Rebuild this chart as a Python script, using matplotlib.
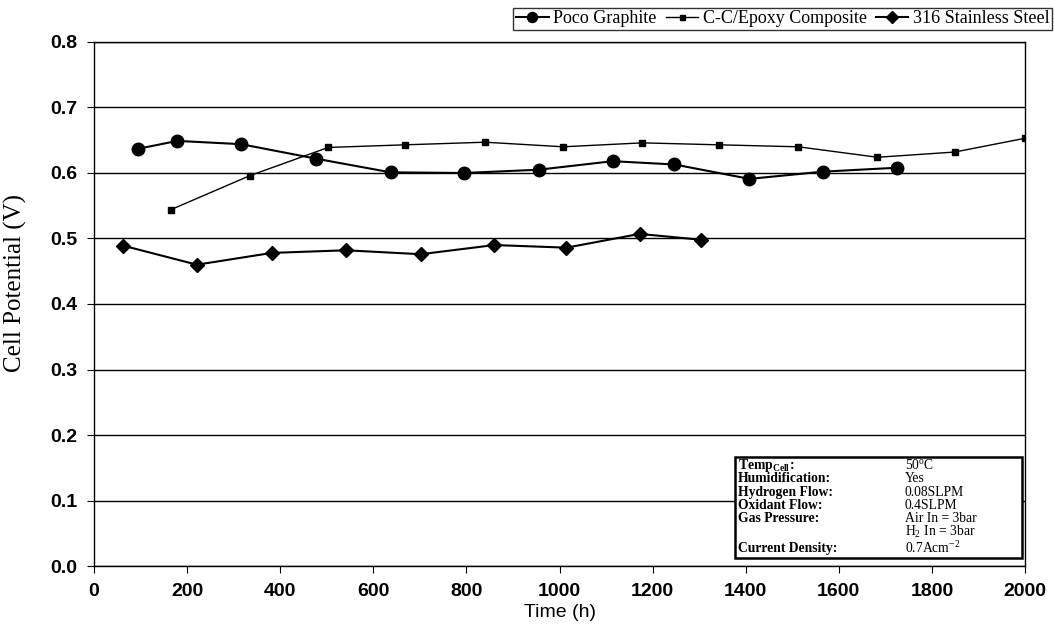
import matplotlib
matplotlib.use("Agg")
import matplotlib.pyplot as plt
from matplotlib.patches import Rectangle

# Daten
poco_t = [95, 179, 316, 476, 637, 795, 955, 1114, 1247, 1408, 1565, 1724]
poco_v = [0.637, 0.649, 0.644, 0.622, 0.601, 0.600, 0.605, 0.618, 0.613, 0.591, 0.602, 0.608]

cc_t = [165, 335, 503, 668, 840, 1008, 1178, 1343, 1513, 1683, 1849, 2000]
cc_v = [0.544, 0.596, 0.639, 0.643, 0.647, 0.640, 0.646, 0.643, 0.640, 0.624, 0.632, 0.653]

ss_t = [63, 221, 382, 541, 702, 860, 1015, 1172, 1305]
ss_v = [0.489, 0.460, 0.478, 0.482, 0.476, 0.490, 0.486, 0.507, 0.498]

info_labels = ["Temp$_{\\mathbf{Cell}}$:", "Humidification:", "Hydrogen Flow:", "Oxidant Flow:",
               "Gas Pressure:", "", "Current Density:"]
info_values = ["50$^{\\mathrm{o}}$C", "Yes", "0.08SLPM", "0.4SLPM", "Air In = 3bar",
               "H$_2$ In = 3bar", "0.7Acm$^{-2}$"]

serif = "Liberation Serif"
sans = "Liberation Sans"
plt.rcParams['mathtext.fontset'] = 'custom'
plt.rcParams['mathtext.rm'] = serif
plt.rcParams['mathtext.bf'] = serif + ':bold'

fig = plt.figure(figsize=(10.54, 6.4), dpi=100)
ax = fig.add_axes([0.0892, 0.1156, 0.8833, 0.8188])

ax.plot(poco_t, poco_v, color='black', lw=1.5, marker='o', ms=9, label='Poco Graphite')
ax.plot(cc_t, cc_v, color='black', lw=1.0, marker='s', ms=4.5, label='C-C/Epoxy Composite')
ax.plot(ss_t, ss_v, color='black', lw=1.5, marker='D', ms=7.5, label='316 Stainless Steel')

ax.set_xlim(0, 2000)
ax.set_ylim(0, 0.8)
ax.set_xticks(range(0, 2001, 200))
ax.set_yticks([i / 10 for i in range(9)])
ax.set_yticklabels([f"{i / 10:.1f}" for i in range(9)])
ax.yaxis.grid(True, color='black', lw=1.0)
ax.set_axisbelow(True)
for sp in ax.spines.values():
    sp.set_color('black')
    sp.set_linewidth(1.0)
ax.tick_params(axis='both', direction='out', length=5, color='black', pad=7)
for lab in ax.get_xticklabels() + ax.get_yticklabels():
    lab.set_fontfamily(sans)
    lab.set_fontweight('bold')
    lab.set_fontsize(14)

ax.set_xlabel("Time (h)", fontfamily=sans, fontsize=14, labelpad=3)
ax.set_ylabel("Cell Potential (V)", fontfamily=serif, fontsize=18, labelpad=6)
ax.yaxis.set_label_coords(-0.072, 0.54)

leg = fig.legend(loc='upper right', bbox_to_anchor=(0.998, 0.988), ncol=3,
                 prop={'family': serif, 'size': 13}, frameon=True, fancybox=False,
                 edgecolor='black', handlelength=1.8, handletextpad=0.25,
                 columnspacing=0.5, borderpad=0.15, borderaxespad=0, markerscale=0.8)
leg.get_frame().set_linewidth(1.0)

# Infobox unten rechts
box_x0, box_y0, box_w, box_h = 0.6885, 0.016, 0.3085, 0.192
ax.add_patch(Rectangle((box_x0, box_y0), box_w, box_h, transform=ax.transAxes,
                       facecolor='white', edgecolor='black', lw=1.8, zorder=5))
row_h = 0.0255
for i, (lab, val) in enumerate(zip(info_labels, info_values)):
    y = box_y0 + box_h - 0.016 - i * row_h
    if i == len(info_labels) - 1:
        y -= 0.005
    ax.text(box_x0 + 0.003, y, lab, transform=ax.transAxes, fontfamily=serif,
            fontweight='bold', fontsize=9.8, va='center', zorder=6)
    ax.text(box_x0 + 0.1825, y, val, transform=ax.transAxes, fontfamily=serif,
            fontsize=9.8, va='center', zorder=6)

fig.savefig("out.png", dpi=100)
